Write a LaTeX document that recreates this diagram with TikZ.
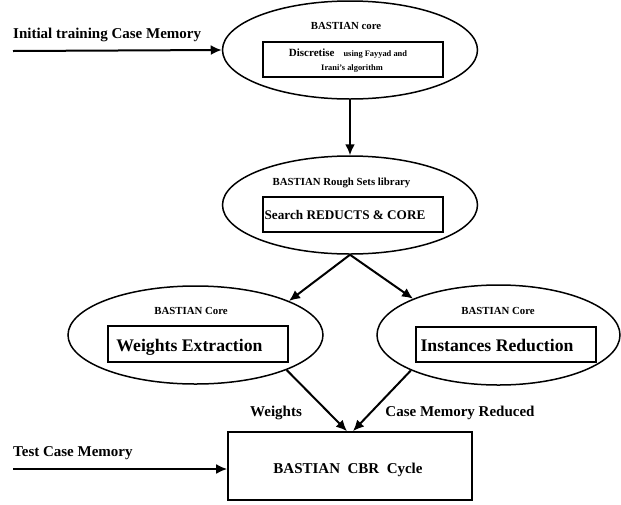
\documentclass[tikz,border=0pt]{standalone}
\usepackage{fontspec}
\setmainfont{Liberation Serif}
\usetikzlibrary{shapes.geometric,arrows.meta,calc}
\begin{document}
\begin{tikzpicture}[x=1pt,y=-1pt,
  ell/.style={draw, ellipse, line width=1.5pt, inner sep=0pt},
  box/.style={draw, rectangle, line width=1.7pt, inner sep=0pt},
  lab/.style={inner sep=0pt, anchor=base},
  fsmall/.style={font=\bfseries\fontsize{10.8}{13}\selectfont},
  fmid/.style={font=\bfseries\fontsize{15}{18}\selectfont},
  fsearch/.style={font=\bfseries\fontsize{13.2}{16}\selectfont},
  fbig/.style={font=\bfseries\fontsize{17.7}{21}\selectfont},
  arr/.style={line width=2pt, -{Latex[length=11pt,width=10pt]}}]
\useasboundingbox (0,0) rectangle (621,504);

% ellipses
\node[ell, minimum width=255pt, minimum height=98pt] (top) at (350,50) {};
\node[ell, minimum width=255pt, minimum height=98pt] (mid) at (350,205) {};
\node[ell, minimum width=255pt, minimum height=98pt] (left) at (195.5,335) {};
\node[ell, minimum width=243pt, minimum height=100pt] (right) at (498.5,335) {};

% inner boxes
\node[box, minimum width=180pt, minimum height=35pt] (topbox) at (353,59.5) {};
\node[box, minimum width=180pt, minimum height=35pt] (midbox) at (353,214.5) {};
\node[box, minimum width=180pt, minimum height=36pt] (leftbox) at (198,344) {};
\node[box, minimum width=180pt, minimum height=35pt] (rightbox) at (506,344.5) {};
\node[box, minimum width=244pt, minimum height=68pt] (cbr) at (350,466) {};

% texts in ellipses
\node[lab, fsmall] (t1) at (346,29.5) {BASTIAN core};
\node[lab, font=\bfseries] (t2) at (348,56) {{\fontsize{11}{13}\selectfont Discretise}\hspace{9pt}{\fontsize{8.4}{10}\selectfont using Fayyad and}};
\node[lab, font=\bfseries\fontsize{8.4}{10}\selectfont] (t3) at (352,70) {Irani's algorithm};
\node[lab, fsmall] (t4) at (341.5,185) {BASTIAN Rough Sets library};
\node[lab, fsearch] (t5) at (345,219.5) {Search REDUCTS \& CORE};
\node[lab, fsmall] (t6) at (191,314.5) {BASTIAN Core};
\node[lab, fbig] (t7) at (189.5,351) {Weights Extraction};
\node[lab, fsmall] (t8) at (498,314.5) {BASTIAN Core};
\node[lab, fbig] (t9) at (497,351) {Instances Reduction};
\node[lab, fmid] (t10) at (348,473) {BASTIAN\ \ CBR\ \ Cycle};

% outside labels
\node[lab, fmid, anchor=base west] (l1) at (13,38) {Initial training Case Memory};
\node[lab, fmid, anchor=base west] (l2) at (13,456) {Test Case Memory};
\node[lab, fmid] (l3) at (276,416) {Weights};
\node[lab, fmid] (l4) at (460,416) {Case Memory Reduced};

% connectors
\coordinate (in1) at (13,51);
\coordinate (in2) at (13,469);
\coordinate (cL) at ($(cbr.north)+(-3,0)$);
\coordinate (cR) at ($(cbr.north)+(3,0)$);
\draw[arr] (in1) -- (top.west);
\draw[arr] (in2) -- (in2 -| cbr.west);
\draw[arr] (top.south) -- (mid.north);
\draw[arr] (mid.south) -- (left.20.9);
\draw[arr] (mid.south) -- (right.157.7);
\draw[arr] (left.-21) -- (cL);
\draw[arr] (right.202.3) -- (cR);
\end{tikzpicture}
\end{document}
